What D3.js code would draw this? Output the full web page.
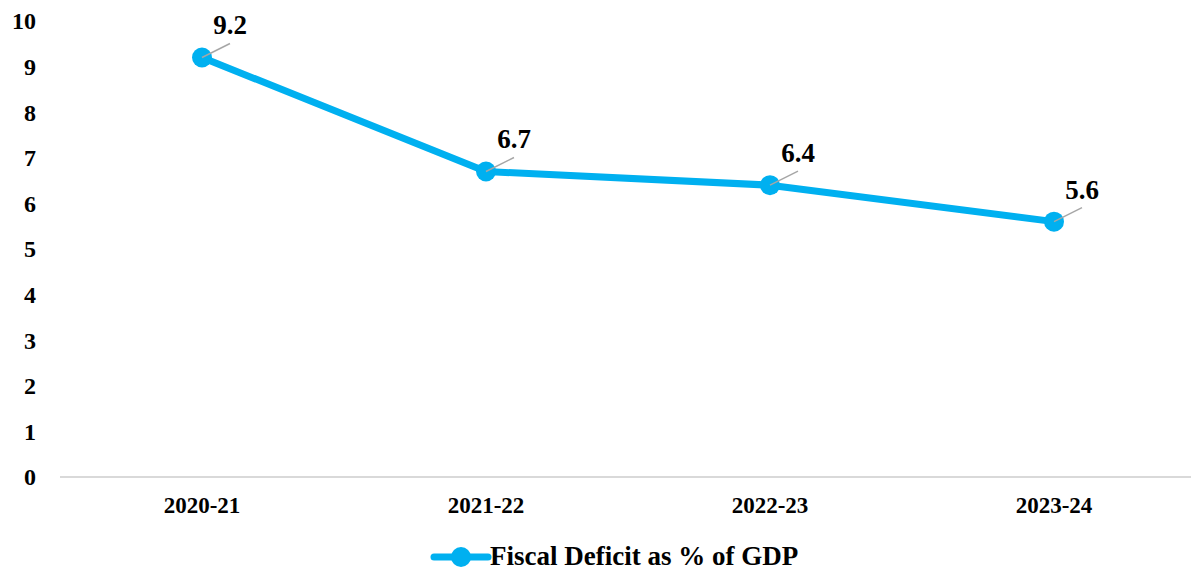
<!DOCTYPE html>
<html><head><meta charset="utf-8">
<script src="https://cdn.jsdelivr.net/npm/d3@7"></script>
<style>body{margin:0;background:#fff}</style>
</head><body>
<svg id="c" width="1191" height="572"></svg>
<script>
const categories = ["2020-21","2021-22","2022-23","2023-24"];
const values = [9.2, 6.7, 6.4, 5.6];
const yTicks = [0,1,2,3,4,5,6,7,8,9,10];
const seriesName = "Fiscal Deficit as % of GDP";

const svg = d3.select("#c");
const font = "'Liberation Serif','Times New Roman',serif";
const color = "#00B0F0";
const x = d3.scaleBand().domain(categories).range([60, 1196]);
const y = d3.scaleLinear().domain([0, 10]).range([477, 21]);

// y tick labels
svg.append("g").selectAll("text").data(yTicks).join("text")
  .attr("x", 36).attr("y", d => y(d)).attr("dy", "0.35em")
  .attr("text-anchor", "end")
  .style("font-family", font).style("font-weight", "bold").style("font-size", "24px")
  .text(d => d);

// baseline
svg.append("line").attr("x1", 60).attr("x2", 1196).attr("y1", y(0)).attr("y2", y(0))
  .attr("stroke", "#d9d9d9").attr("stroke-width", 2);

// x labels
svg.append("g").selectAll("text").data(categories).join("text")
  .attr("x", d => x(d) + x.bandwidth()/2).attr("y", 513)
  .attr("text-anchor", "middle")
  .style("font-family", font).style("font-weight", "bold").style("font-size", "23px")
  .text(d => d);

const cx = (d, i) => x(categories[i]) + x.bandwidth()/2;
const line = d3.line().x((d,i) => cx(d,i)).y(d => y(d));
svg.append("path").datum(values).attr("d", line)
  .attr("fill", "none").attr("stroke", color).attr("stroke-width", 7).attr("stroke-linejoin", "round");

svg.append("g").selectAll("circle").data(values).join("circle")
  .attr("cx", cx).attr("cy", d => y(d)).attr("r", 10).attr("fill", color);

// leader lines
svg.append("g").selectAll("line").data(values).join("line")
  .attr("x1", cx).attr("y1", d => y(d))
  .attr("x2", (d,i) => cx(d,i) + 28).attr("y2", d => y(d) - 14)
  .attr("stroke", "#a6a6a6").attr("stroke-width", 1.5);

// data labels
svg.append("g").selectAll("text").data(values).join("text")
  .attr("x", (d,i) => cx(d,i) + 28).attr("y", d => y(d) - 23)
  .attr("text-anchor", "middle")
  .style("font-family", font).style("font-weight", "bold").style("font-size", "27px")
  .text(d => d.toFixed(1));

// legend
const lg = svg.append("g");
lg.append("line").attr("x1", 434).attr("x2", 488).attr("y1", 557).attr("y2", 557)
  .attr("stroke", color).attr("stroke-width", 7).attr("stroke-linecap", "round");
lg.append("circle").attr("cx", 461).attr("cy", 557).attr("r", 10).attr("fill", color);
lg.append("text").attr("x", 490).attr("y", 565)
  .style("font-family", font).style("font-weight", "bold").style("font-size", "27px")
  .text(seriesName);
</script>
</body></html>
